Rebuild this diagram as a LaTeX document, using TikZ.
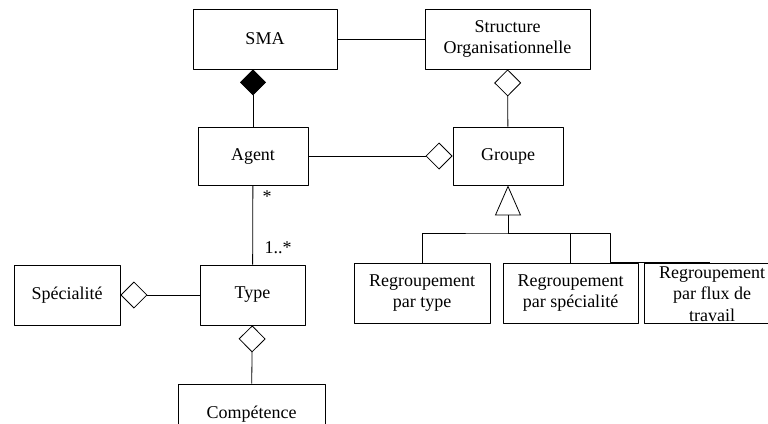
\documentclass[tikz,border=0pt]{standalone}
\usepackage{fontspec}
\setmainfont{Liberation Serif}
\usetikzlibrary{arrows,arrows.meta,shapes}

\begin{document}
\begin{tikzpicture}[>=latex',line join=bevel,line width=0.8bp,
    classe/.style={draw,rectangle,inner sep=0pt,align=center,font=\fontsize{18bp}{21.5bp}\selectfont},
    compo/.style={-{Diamond[length=26bp,width=26bp,line width=0.8bp]}},
    agreg/.style={-{Diamond[open,length=27bp,width=27bp,line width=0.8bp]}},
    herit/.style={-{Triangle[open,length=30bp,width=26bp,line width=0.8bp]}},
    mult/.style={font=\fontsize{18bp}{21.5bp}\selectfont,inner sep=0pt}]
    %%
    \clip (0bp,0bp) rectangle (768bp,-424bp);
    \node (sma) at (265bp,-39bp) [classe,minimum width=144bp,minimum height=60bp] {SMA};
      \node (struct) at (507.5bp,-39bp) [classe,minimum width=165bp,minimum height=60bp] {Structure\\Organisationnelle};
      \node (agent) at (253bp,-156bp) [classe,minimum width=110bp,minimum height=58bp] {Agent};
      \node (groupe) at (508bp,-156bp) [classe,minimum width=110bp,minimum height=58bp] {Groupe};
      \node (type) at (252.5bp,-295bp) [classe,minimum width=105bp,minimum height=60bp] {Type};
      \node (spec) at (67bp,-295bp) [classe,minimum width=106bp,minimum height=60bp] {Spécialité};
      \node (comp) at (251.5bp,-414bp) [classe,minimum width=147bp,minimum height=60bp] {Compétence};
      \node (regtype) at (422bp,-293bp) [classe,minimum width=136bp,minimum height=60bp] {Regroupement\\par type};
      \node (regspec) at (570.5bp,-293bp) [classe,minimum width=135bp,minimum height=60bp] {Regroupement\\par spécialité};
      \node (regflux) at (712bp,-293bp) [classe,minimum width=136bp,minimum height=60bp] {};
      \node (regfluxtxt) at (712bp,-294bp) [classe,draw=none] {Regroupement\\par flux de\\travail};
    %
      \draw (sma) -- (struct);
      \draw [compo] (agent) -- (agent |- sma.south);
      \draw [agreg] (groupe) -- (struct);
      \draw [agreg] (agent) -- (groupe);
      \draw (agent) -- (type);
      \node (multagent) at (267bp,-197bp) [mult] {*};
      \node (multtype) at (278bp,-248bp) [mult] {1..*};
      \draw [agreg] (type) -- (spec);
      \draw [agreg] (comp) -- (type);
    %
      \coordinate (bar) at (508bp,-233bp);
      \coordinate (coude) at (610bp,-262.5bp);
      \coordinate (flux) at (710bp,-262.5bp);
      \draw [herit] (bar) -- (groupe);
      \draw (regtype.north) |- (bar) -| (regspec.north);
      \draw (bar) -| (coude) -- (flux);
    %
    \end{tikzpicture}
\end{document}
